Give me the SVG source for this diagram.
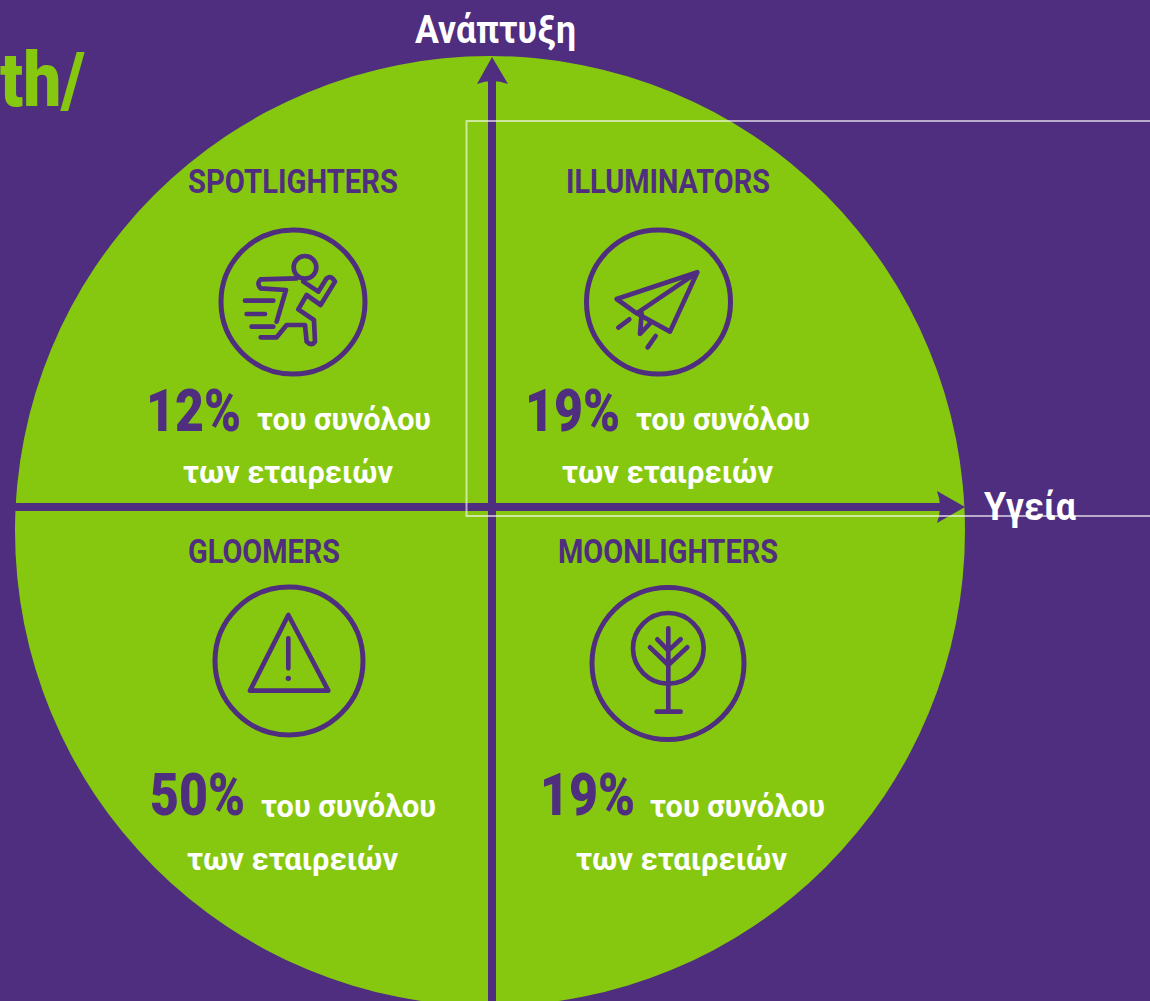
<svg xmlns="http://www.w3.org/2000/svg" width="1150" height="1001" viewBox="0 0 1150 1001">
<style>
text{font-family:Roboto,"Liberation Sans",sans-serif;font-weight:700}
.h{font-size:33px;fill:#4f2d7f}
.p{font-size:59px;fill:#4f2d7f;font-weight:900}
.w{font-size:32px;fill:#fff}
.a{font-size:38px;fill:#fff}
.i{fill:none;stroke:#4f2d7f;stroke-width:5;stroke-linecap:round;stroke-linejoin:round}
.z{fill:none;stroke:#4f2d7f;stroke-width:14;stroke-linecap:round;stroke-linejoin:round}
</style>
<rect width="1150" height="1001" fill="#4f2d7f"/>
<circle cx="490" cy="531" r="475" fill="#86c80f"/>
<text x="0" y="106" font-size="76" style="font-weight:900" fill="#86c80f" textLength="85" lengthAdjust="spacingAndGlyphs">th/</text>
<g id="connectors">
<path d="M492 80V1001M15 507H942" fill="none" stroke="#4f2d7f" stroke-width="8"/>
<path d="M492 57L508 84Q492 78 477 84Z" fill="#4f2d7f"/>
<path d="M965 507L937 491Q943 507 937 523Z" fill="#4f2d7f"/>
</g>
<rect x="466.500" y="121" width="720" height="395" fill="none" stroke="#fff" stroke-opacity=".6" stroke-width="2"/>
<g id="axis-growth"><text class="a" x="415" y="43" textLength="161" lengthAdjust="spacingAndGlyphs">Ανάπτυξη</text></g>
<g id="axis-health"><text class="a" x="984" y="520" textLength="92" lengthAdjust="spacingAndGlyphs">Υγεία</text></g>
<g id="spotlighters">
<text class="h" x="188" y="193" textLength="210" lengthAdjust="spacingAndGlyphs">SPOTLIGHTERS</text>
<circle class="i" cx="293" cy="302" r="72"/>
<g transform="translate(130 150) scale(.3333)">
<circle class="z" cx="525" cy="352" r="34"/>
<path class="z" d="M500 385L392 388Q378 400 392 415L468 420L440 515M345 452H430M350 492H405M365 530H430M392 562H440L470 525H525L530 575Q545 590 555 575L552 510L505 478L530 435L572 465L615 395Q605 375 590 385L565 425L520 395"/>
</g>
<text class="p" x="146" y="431" textLength="95" lengthAdjust="spacingAndGlyphs">12%</text>
<text class="w" x="257" y="430" textLength="174" lengthAdjust="spacingAndGlyphs">του συνόλου</text>
<text class="w" x="183" y="483" textLength="210" lengthAdjust="spacingAndGlyphs">των εταιρειών</text>
</g>
<g id="illuminators">
<text class="h" x="566" y="193" textLength="204" lengthAdjust="spacingAndGlyphs">ILLUMINATORS</text>
<circle class="i" cx="658.500" cy="302" r="72"/>
<g transform="translate(510 150) scale(.3333)">
<path class="z" d="M320 447L562 367L480 545L380 490ZM562 367L380 490M395 490L390 552L425 515M325 533L358 508M413 592L437 558"/>
</g>
<text class="p" x="525" y="431" textLength="95" lengthAdjust="spacingAndGlyphs">19%</text>
<text class="w" x="636" y="430" textLength="174" lengthAdjust="spacingAndGlyphs">του συνόλου</text>
<text class="w" x="562" y="483" textLength="211" lengthAdjust="spacingAndGlyphs">των εταιρειών</text>
</g>
<g id="gloomers">
<text class="h" x="188" y="563" textLength="152" lengthAdjust="spacingAndGlyphs">GLOOMERS</text>
<circle class="i" cx="289" cy="661" r="74"/>
<g transform="translate(170 530) scale(.3333)">
<path class="z" d="M355 255L240 482H475ZM355 325V415"/>
<circle cx="355" cy="445" r="8" fill="#4f2d7f"/>
</g>
<text class="p" x="150" y="815" textLength="95" lengthAdjust="spacingAndGlyphs">50%</text>
<text class="w" x="261" y="817" textLength="175" lengthAdjust="spacingAndGlyphs">του συνόλου</text>
<text class="w" x="187" y="870" textLength="211" lengthAdjust="spacingAndGlyphs">των εταιρειών</text>
</g>
<g id="moonlighters">
<text class="h" x="558" y="563" textLength="220" lengthAdjust="spacingAndGlyphs">MOONLIGHTERS</text>
<circle class="i" cx="668" cy="663.500" r="76"/>
<g transform="translate(550 530) scale(.3333)">
<circle class="z" cx="355" cy="355" r="106"/>
<path class="z" d="M355 295V545M320 545H392M300 352L355 405L412 352M322 328L355 362L392 328"/>
</g>
<text class="p" x="540" y="815" textLength="95" lengthAdjust="spacingAndGlyphs">19%</text>
<text class="w" x="650" y="817" textLength="175" lengthAdjust="spacingAndGlyphs">του συνόλου</text>
<text class="w" x="576" y="870" textLength="211" lengthAdjust="spacingAndGlyphs">των εταιρειών</text>
</g>
</svg>
